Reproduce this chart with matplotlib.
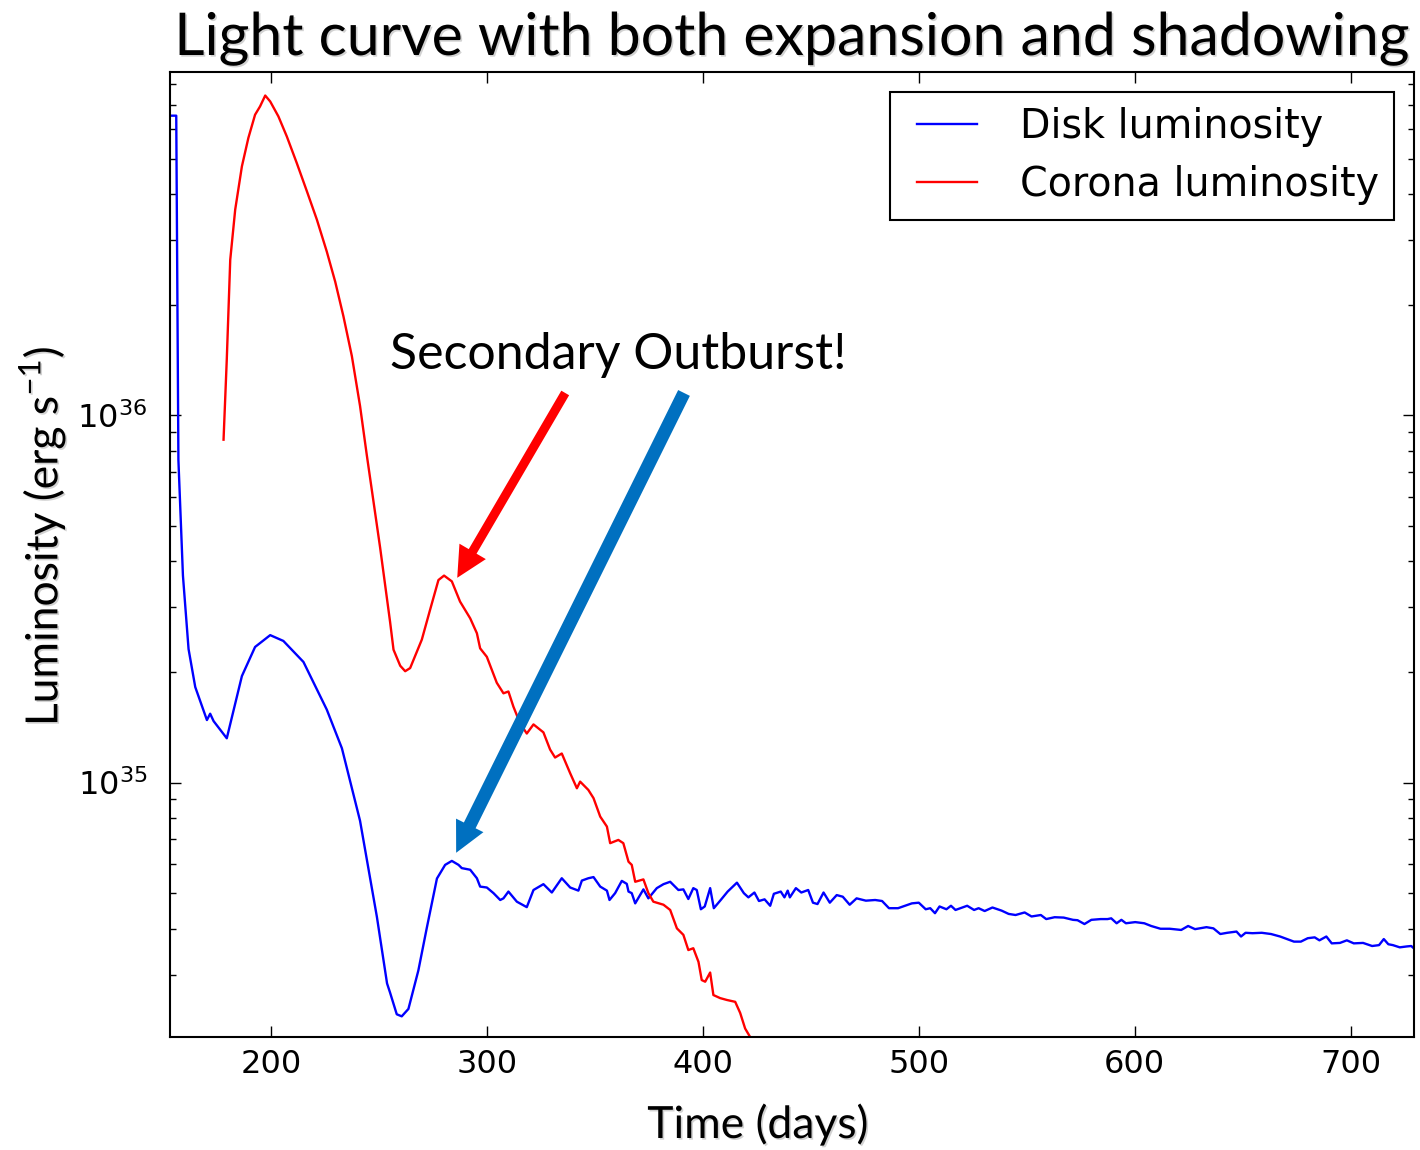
import matplotlib
matplotlib.use("Agg")
import matplotlib.pyplot as plt
import matplotlib.patheffects as pe
from matplotlib.lines import Line2D
from matplotlib.legend_handler import HandlerLine2D
from matplotlib.ticker import LogLocator, NullFormatter

# disk light curve: time in days, luminosity in units of 1e35 erg/s
disk_t = [153.4, 156.2, 157.2, 159.3, 161.9, 165.0, 170.4, 171.9, 173.5, 179.6,
          181.9, 186.6, 192.7, 199.7, 205.8, 215.1, 225.9, 232.9, 241.3, 249.1,
          253.8, 255.2, 258.3, 260.6, 263.7, 268.3, 272.2, 276.9, 280.7, 283.8,
          286.9, 288.4, 292.3, 295.4, 296.9, 300.0, 303.1, 306.2, 307.7, 310.0,
          313.9, 318.5, 321.6, 326.2, 330.1, 334.7, 338.6, 342.4, 344.0, 347.0,
          349.4, 352.5, 355.6, 356.8, 359.4, 362.5, 364.8, 365.6, 367.1, 368.7,
          372.5, 374.8, 378.7, 381.8, 384.9, 388.7, 391.0, 393.3, 395.6, 397.2,
          399.1, 400.9, 403.4, 405.1, 408.3, 411.5, 415.8, 419.0, 421.1, 423.9,
          426.0, 428.6, 431.2, 432.9, 436.1, 437.8, 439.3, 440.3, 443.1, 445.6,
          448.8, 451.0, 453.1, 455.9, 458.8, 462.0, 464.8, 468.0, 471.2, 475.5,
          479.8, 483.0, 486.2, 490.4, 496.8, 500.0, 503.2, 505.3, 507.5, 509.6,
          512.8, 514.9, 517.0, 522.4, 525.6, 527.7, 530.5, 534.1, 538.4, 541.6,
          544.8, 549.0, 552.2, 556.5, 559.0, 562.9, 567.1, 571.4, 573.5, 576.7,
          579.9, 584.2, 587.4, 589.1, 591.6, 593.8, 595.9, 600.2, 604.4, 607.6,
          611.9, 616.2, 621.5, 624.7, 627.9, 633.2, 636.4, 639.6, 642.8, 647.1,
          649.2, 651.3, 654.5, 658.8, 663.1, 667.3, 670.5, 673.7, 676.9, 680.1,
          683.3, 685.5, 688.7, 691.2, 695.0, 698.2, 701.4, 705.7, 709.9, 713.1,
          715.3, 717.4, 719.5, 722.7, 725.9, 728.0, 730.1]
disk_L = [65.4, 65.4, 7.56, 3.66, 2.31, 1.82, 1.48, 1.54, 1.47, 1.32,
          1.50, 1.95, 2.34, 2.52, 2.43, 2.13, 1.58, 1.24, 0.787, 0.431,
          0.284, 0.268, 0.234, 0.231, 0.242, 0.308, 0.402, 0.548, 0.597, 0.612,
          0.597, 0.585, 0.579, 0.549, 0.521, 0.518, 0.500, 0.479, 0.484, 0.505,
          0.474, 0.458, 0.510, 0.529, 0.502, 0.549, 0.518, 0.508, 0.541, 0.549,
          0.553, 0.521, 0.508, 0.479, 0.500, 0.540, 0.530, 0.505, 0.500, 0.469,
          0.512, 0.484, 0.516, 0.529, 0.537, 0.510, 0.512, 0.482, 0.516, 0.510,
          0.452, 0.460, 0.516, 0.455, 0.479, 0.505, 0.534, 0.500, 0.487, 0.502,
          0.476, 0.481, 0.462, 0.498, 0.505, 0.487, 0.508, 0.487, 0.516, 0.502,
          0.510, 0.471, 0.467, 0.502, 0.471, 0.494, 0.489, 0.465, 0.484, 0.477,
          0.479, 0.476, 0.455, 0.455, 0.469, 0.471, 0.452, 0.455, 0.441, 0.460,
          0.452, 0.462, 0.450, 0.462, 0.450, 0.455, 0.447, 0.457, 0.448, 0.439,
          0.436, 0.443, 0.432, 0.436, 0.425, 0.430, 0.429, 0.423, 0.422, 0.412,
          0.423, 0.425, 0.425, 0.427, 0.414, 0.423, 0.414, 0.417, 0.414, 0.407,
          0.400, 0.400, 0.397, 0.407, 0.399, 0.404, 0.401, 0.387, 0.390, 0.393,
          0.381, 0.390, 0.389, 0.390, 0.387, 0.381, 0.375, 0.369, 0.369, 0.377,
          0.379, 0.372, 0.381, 0.365, 0.366, 0.372, 0.365, 0.366, 0.359, 0.361,
          0.375, 0.363, 0.361, 0.356, 0.358, 0.359, 0.350]

# corona light curve
corona_t = [178.1, 179.6, 181.2, 183.5, 186.6, 189.6, 192.7, 195.0, 197.4, 199.7,
            203.5, 207.4, 212.0, 216.7, 221.3, 225.9, 229.8, 233.6, 237.5, 241.3,
            244.4, 250.6, 255.2, 256.8, 259.9, 262.2, 264.5, 269.9, 273.7, 277.6,
            280.2, 283.8, 287.6, 292.3, 295.4, 296.9, 300.0, 304.6, 307.7, 310.0,
            312.3, 315.4, 318.5, 321.6, 326.2, 329.3, 331.6, 334.7, 338.6, 341.7,
            343.2, 347.0, 349.4, 352.5, 355.6, 357.1, 360.9, 363.2, 365.6, 367.1,
            368.7, 372.5, 374.8, 377.1, 381.8, 384.9, 388.0, 391.0, 393.3, 395.6,
            398.0, 399.5, 401.1, 403.4, 404.9, 408.0, 411.1, 415.0, 417.3, 419.6,
            421.9, 424.5, 427.0]
corona_L = [8.58, 14.2, 26.5, 36.3, 47.6, 56.9, 65.8, 69.3, 74.2, 71.5,
            65.1, 57.4, 48.6, 40.7, 34.1, 27.9, 23.1, 18.6, 14.5, 10.6,
            7.81, 4.36, 2.74, 2.30, 2.08, 2.01, 2.05, 2.45, 2.95, 3.56,
            3.66, 3.53, 3.11, 2.80, 2.55, 2.32, 2.20, 1.87, 1.75, 1.77,
            1.61, 1.45, 1.36, 1.44, 1.37, 1.23, 1.17, 1.20, 1.06, 0.965,
            1.006, 0.955, 0.907, 0.808, 0.759, 0.684, 0.698, 0.684, 0.609, 0.597,
            0.537, 0.545, 0.500, 0.474, 0.465, 0.450, 0.401, 0.385, 0.350, 0.354,
            0.325, 0.290, 0.287, 0.304, 0.264, 0.259, 0.256, 0.253, 0.236, 0.214,
            0.203, 0.190, 0.178]

unit = 1e35
x_ticks = [200, 300, 400, 500, 600, 700]

title_font = "Lato"
shadow = [pe.withSimplePatchShadow(offset=(1.2, -1.2), shadow_rgbFace="0.5", alpha=0.35)]

fig = plt.figure(figsize=(14.2, 11.5), dpi=100)
ax = fig.add_axes([0.1194, 0.0983, 0.8764, 0.8391])

ax.plot(disk_t, [v * unit for v in disk_L], color="b", lw=1.7, label="Disk luminosity")
ax.plot(corona_t, [v * unit for v in corona_L], color="r", lw=1.7, label="Corona luminosity")

ax.set_yscale("log")
ax.set_xlim(153.1, 729.3)
ax.set_ylim(2.03e34, 8.6e36)
ax.set_xticks(x_ticks)
ax.yaxis.set_major_locator(LogLocator(base=10))
ax.yaxis.set_minor_locator(LogLocator(base=10, subs=range(2, 10)))
ax.yaxis.set_minor_formatter(NullFormatter())

for s in ax.spines.values():
    s.set_linewidth(1.5)
ax.tick_params(which="both", direction="in", top=True, right=True, width=1.0)
ax.tick_params(which="major", length=8, labelsize=23)
ax.tick_params(which="minor", length=4)
ax.tick_params(axis="x", which="both", pad=9)
ax.tick_params(axis="y", which="both", pad=16)

leg = ax.legend(loc="upper right", fontsize=28.5, handlelength=1.82, handletextpad=1.09,
                borderpad=0.38, labelspacing=0.46, borderaxespad=0.5,
                fancybox=False, framealpha=1, edgecolor="black",
                handler_map={Line2D: HandlerLine2D(xpad=0.3)})
leg.get_frame().set_linewidth(1.5)

fig.text(791.75 / 1420, 1 - 55 / 1150, "Light curve with both expansion and shadowing",
         ha="center", va="baseline", fontsize=42.5, family=title_font, path_effects=shadow)
fig.text(758 / 1420, 1 - 1138 / 1150, "Time (days)", ha="center", va="baseline",
         fontsize=32, family=title_font, path_effects=shadow)
fig.text(42 / 1420, 1 - 536 / 1150, "Luminosity (erg s$^{\\mathregular{-1}}$)", rotation=90,
         ha="center", va="center", fontsize=32, family=title_font, path_effects=shadow)

ax.text(0.1772, 0.6922, "Secondary Outburst!", transform=ax.transAxes, ha="left",
        va="baseline", fontsize=36, family=title_font)

# arrows pointing at the secondary peaks
ax.annotate("", xy=(286.3, 3.61e35), xytext=(336.3, 1.15e36),
            arrowprops=dict(facecolor="#ff0000", edgecolor="none", width=6.5,
                            headwidth=22, headlength=22, shrink=0))
ax.annotate("", xy=(285.8, 6.44e34), xytext=(391.3, 1.15e36),
            arrowprops=dict(facecolor="#0070c0", edgecolor="none", width=9.4,
                            headwidth=22, headlength=22, shrink=0))

fig.savefig("out.png", dpi=100, facecolor="white")
